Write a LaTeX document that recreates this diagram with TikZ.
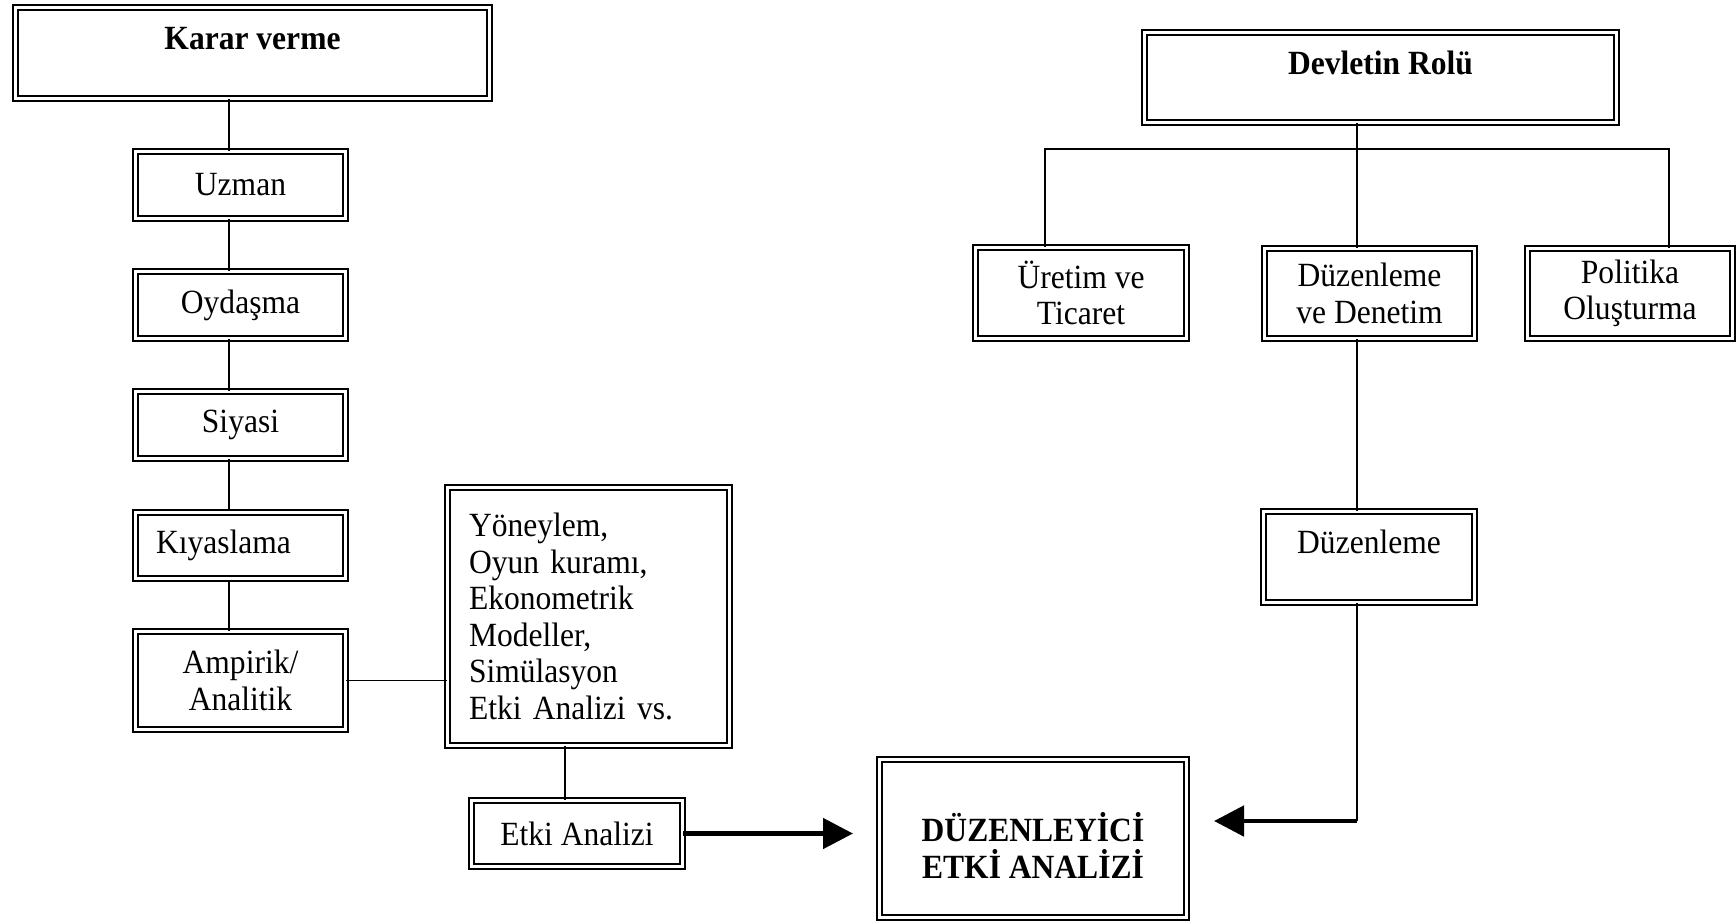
\documentclass[tikz,border=0pt]{standalone}
\usepackage{fontspec}
\setmainfont[FakeStretch=0.93]{Liberation Serif}
\usetikzlibrary{arrows.meta}

\begin{document}
\begin{tikzpicture}[
	font=\fontsize{19.3}{20.8}\selectfont,
	box/.style={draw, double, line width=1.3pt, double distance=1.6pt, align=center, inner sep=0pt},
	link/.style={line width=0.8pt},
	bigarrow/.style={line width=2.8pt, -{Triangle[length=0.6cm,width=0.6cm]}},
	toptext/.style={text height=0.45cm, text depth=0.59cm}
]
	% Frame
	\useasboundingbox (0,0) rectangle (34.72,-18.46);

	% Left column: decision making
	\node[box, toptext, minimum width=9.47cm, minimum height=1.81cm] (karar) at (5.05,-1.06) {\bfseries Karar verme};
	\node[box, minimum width=4.19cm, minimum height=1.33cm] (uzman) at (4.81,-3.70) {Uzman};
	\node[box, minimum width=4.19cm, minimum height=1.33cm] (oydasma) at (4.81,-6.10) {Oydaşma};
	\node[box, minimum width=4.19cm, minimum height=1.33cm] (siyasi) at (4.81,-8.50) {Siyasi};
	\node[box, minimum width=4.19cm, minimum height=1.33cm, text width=3.38cm, align=left] (kiyas) at (4.81,-10.91) {Kıyaslama};
	\node[box, minimum width=4.19cm, minimum height=1.95cm] (ampirik) at (4.81,-13.61) {Ampirik/\\Analitik};
	\node[box, minimum width=5.63cm, minimum height=5.15cm, text width=4.78cm, align=left] (yoneylem) at (11.77,-12.33)
		{Yöneylem,\\Oyun kuramı,\\Ekonometrik\\Modeller,\\Simülasyon\\Etki Analizi vs.};
	\node[box, minimum width=4.21cm, minimum height=1.31cm] (etki) at (11.54,-16.67) {Etki Analizi};

	% Centre: result
	\node[box, minimum width=6.13cm, minimum height=3.15cm, text height=1.6cm] (duzenleyici) at (20.66,-16.77)
		{\bfseries DÜZENLEYİCİ\\\bfseries ETKİ ANALİZİ};

	% Right column: role of the state
	\node[box, toptext, minimum width=9.43cm, minimum height=1.79cm] (devlet) at (27.61,-1.55) {\bfseries Devletin Rolü};
	\node[box, minimum width=4.21cm, minimum height=1.81cm] (uretim) at (21.62,-5.86) {Üretim ve\\Ticaret};
	\node[box, minimum width=4.19cm, minimum height=1.79cm] (denetim) at (27.39,-5.87) {Düzenleme\\ve Denetim};
	\node[box, minimum width=4.09cm, minimum height=1.79cm] (politika) at (32.60,-5.87) {Politika\\Oluşturma};
	\node[box, toptext, minimum width=4.21cm, minimum height=1.81cm] (duzenleme) at (27.38,-11.14) {Düzenleme};

	% Helper coordinates
	\coordinate (lx) at (4.58,0);
	\coordinate (mx) at (11.30,0);
	\coordinate (rx) at (27.14,0);
	\coordinate (barL) at (20.90,-2.98);
	\coordinate (barR) at (33.38,-2.98);
	\coordinate (tipL) at (17.06,-16.56);
	\coordinate (tipR) at (24.28,-16.42);

	% Left links
	\draw[link] (karar.south -| lx) -- (uzman.north -| lx);
	\draw[link] (uzman.south -| lx) -- (oydasma.north -| lx);
	\draw[link] (oydasma.south -| lx) -- (siyasi.north -| lx);
	\draw[link] (siyasi.south -| lx) -- (kiyas.north -| lx);
	\draw[link] (kiyas.south -| lx) -- (ampirik.north -| lx);
	\draw[link] (ampirik.east) -- (ampirik.east -| yoneylem.west);
	\draw[link] (yoneylem.south -| mx) -- (etki.north -| mx);

	% Right links
	\draw[link] (devlet.south -| rx) -- (denetim.north -| rx);
	\draw[link] (uretim.north -| barL) -- (barL) -- (barR) -- (politika.north -| barR);
	\draw[link] (denetim.south -| rx) -- (duzenleme.north -| rx);
	\draw[link] (duzenleme.south -| rx) -- (rx |- tipR) coordinate (corner);

	% Arrows into the result
	\draw[bigarrow] (etki.east) -- (etki.east -| tipL);
	\draw[bigarrow] (corner) -- (tipR);
\end{tikzpicture}
\end{document}
